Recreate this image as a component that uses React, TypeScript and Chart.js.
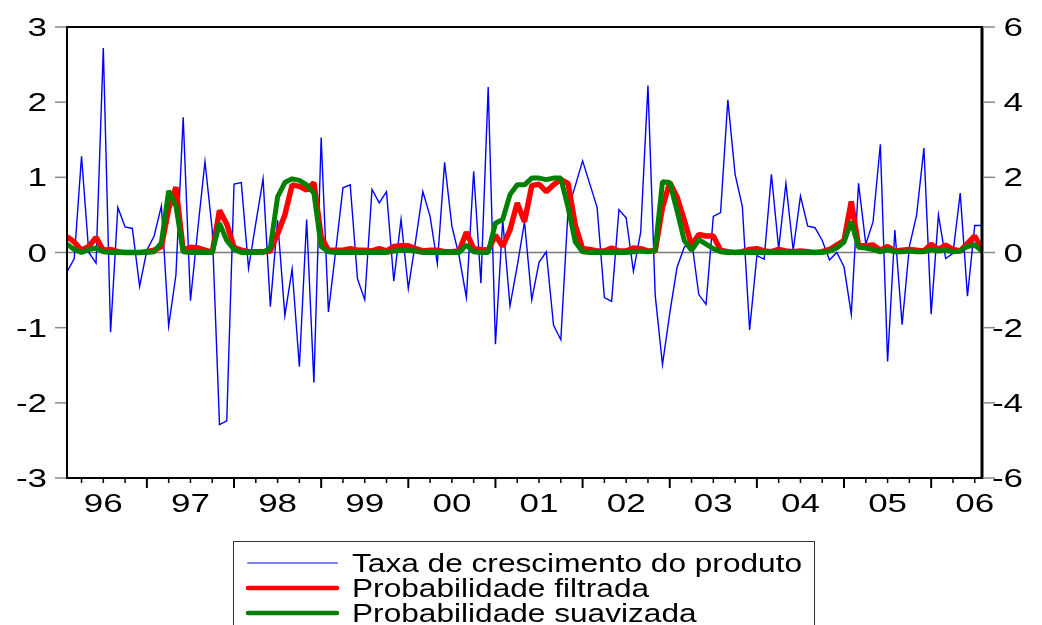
import React, { useEffect, useRef } from 'react';
import { Chart, registerables } from 'chart.js';

Chart.register(...registerables);

// Year labels shown under the x axis (monthly data, 1996 -> 2006)
const yearLabels = ['96', '97', '98', '99', '00', '01', '02', '03', '04', '05', '06'];
const leftTicks = [-3, -2, -1, 0, 1, 2, 3];
const rightTicks = [-6, -4, -2, 0, 2, 4, 6];

const seriesNames = [
  'Taxa de crescimento do produto',
  'Probabilidade filtrada',
  'Probabilidade suavizada',
];

// Taxa de crescimento do produto (right axis)
const growth = [
  -0.52, -0.16, 2.56, 0.0, -0.28, 5.44, -2.12, 1.2, 0.68, 0.64,
  -0.9, 0.06, 0.44, 1.24, -1.96, -0.6, 3.6, -1.28, 0.6, 2.42,
  0.6, -4.58, -4.48, 1.82, 1.86, -0.42, 0.78, 1.96, -1.44, 0.86,
  -1.68, -0.44, -3.04, 0.88, -3.46, 3.06, -1.58, 0.04, 1.72, 1.8,
  -0.7, -1.26, 1.68, 1.32, 1.62, -0.76, 0.88, -0.96, 0.3, 1.62,
  0.96, -0.3, 2.4, 0.7, -0.1, -1.2, 2.16, -0.82, 4.4, -2.44,
  0.86, -1.42, -0.36, 0.82, -1.26, -0.26, 0.02, -1.94, -2.32, 1.14,
  1.78, 2.44, 1.82, 1.2, -1.2, -1.3, 1.14, 0.92, -0.5, 0.54,
  4.44, -1.14, -2.98, -1.62, -0.4, 0.14, 0.34, -1.12, -1.38, 0.96,
  1.06, 4.06, 2.08, 1.22, -2.06, -0.08, -0.18, 2.08, 0.1, 1.84,
  0.06, 1.5, 0.7, 0.66, 0.32, -0.2, 0.0, -0.38, -1.64, 1.84,
  0.22, 0.82, 2.88, -2.9, 0.6, -1.92, 0.16, 1.0, 2.78, -1.64,
  1.0, -0.16, -0.02, 1.58, -1.16, 0.72, 0.72,
];

// Probabilidade filtrada (left axis)
const filtered = [
  0.21, 0.14, 0.03, 0.08, 0.2, 0.03, 0.04, 0.01, 0.0, 0.0,
  0.0, 0.01, 0.03, 0.08, 0.58, 0.87, 0.03, 0.07, 0.06, 0.03,
  0.0, 0.56, 0.38, 0.07, 0.03, 0.01, 0.01, 0.01, 0.02, 0.25,
  0.5, 0.9, 0.88, 0.83, 0.93, 0.21, 0.03, 0.03, 0.03, 0.05,
  0.03, 0.03, 0.02, 0.05, 0.02, 0.08, 0.09, 0.09, 0.05, 0.02,
  0.03, 0.03, 0.01, 0.01, 0.02, 0.27, 0.05, 0.04, 0.03, 0.23,
  0.08, 0.3, 0.66, 0.41, 0.89, 0.91, 0.81, 0.9, 0.97, 0.92,
  0.36, 0.05, 0.04, 0.02, 0.02, 0.06, 0.02, 0.02, 0.06, 0.05,
  0.02, 0.02, 0.6, 0.93, 0.74, 0.43, 0.1, 0.24, 0.22, 0.22,
  0.03, 0.01, 0.0, 0.01, 0.04, 0.05, 0.02, 0.01, 0.04, 0.02,
  0.01, 0.02, 0.01, 0.0, 0.01, 0.04, 0.1, 0.16, 0.68, 0.09,
  0.09, 0.1, 0.03, 0.08, 0.02, 0.03, 0.04, 0.03, 0.02, 0.11,
  0.04, 0.1, 0.04, 0.02, 0.12, 0.22, 0.04,
];

// Probabilidade suavizada (left axis)
const smoothed = [
  0.11, 0.04, 0.0, 0.04, 0.06, 0.01, 0.0, 0.0, 0.0, 0.0,
  0.0, 0.0, 0.01, 0.13, 0.82, 0.62, 0.01, 0.0, 0.0, 0.0,
  0.0, 0.39, 0.16, 0.04, 0.0, 0.0, 0.0, 0.0, 0.06, 0.74,
  0.93, 0.98, 0.96, 0.9, 0.79, 0.08, 0.01, 0.0, 0.0, 0.0,
  0.0, 0.0, 0.0, 0.0, 0.0, 0.02, 0.03, 0.03, 0.02, 0.0,
  0.0, 0.0, 0.0, 0.0, 0.0, 0.1, 0.01, 0.0, 0.0, 0.39,
  0.44, 0.77, 0.9, 0.9, 0.99, 0.99, 0.97, 0.99, 0.99, 0.6,
  0.14, 0.01, 0.0, 0.0, 0.0, 0.0, 0.0, 0.0, 0.01, 0.02,
  0.01, 0.03, 0.94, 0.93, 0.56, 0.16, 0.03, 0.17, 0.11, 0.05,
  0.01, 0.0, 0.0, 0.0, 0.0, 0.0, 0.0, 0.0, 0.0, 0.0,
  0.0, 0.0, 0.0, 0.0, 0.0, 0.02, 0.06, 0.14, 0.41, 0.07,
  0.06, 0.04, 0.01, 0.04, 0.01, 0.01, 0.02, 0.01, 0.01, 0.04,
  0.02, 0.03, 0.01, 0.02, 0.08, 0.1, 0.02,
];

// month index of the first quarter tick, and of the first January tick
const firstQuarterIdx = 2;
const firstYearIdx = 11;

const FONT = "25px 'Liberation Sans', Arial, sans-serif";
const AXIS_STRETCH = 1.4;
const LEGEND_STRETCH = 1.265;

function stretchedText(
  ctx: CanvasRenderingContext2D,
  text: string,
  x: number,
  y: number,
  align: CanvasTextAlign,
  stretch: number
) {
  ctx.save();
  ctx.translate(x, y);
  ctx.scale(stretch, 1);
  ctx.font = FONT;
  ctx.fillStyle = '#000';
  ctx.textAlign = align;
  ctx.textBaseline = 'alphabetic';
  ctx.fillText(text, 0, 0);
  ctx.restore();
}

export default function App() {
  const ref = useRef<HTMLCanvasElement>(null);

  useEffect(() => {
    if (!ref.current) return;
    const toXY = (arr: number[]) => arr.map((v, i) => ({ x: i, y: v }));

    const eviewsPlugin = {
      id: 'eviewsFrame',
      beforeDatasetsDraw(chart: any) {
        const { ctx, chartArea, scales } = chart;
        const y0 = scales.y.getPixelForValue(0);
        ctx.save();
        ctx.strokeStyle = '#7a7a7a';
        ctx.lineWidth = 1.6;
        ctx.beginPath();
        ctx.moveTo(chartArea.left, y0);
        ctx.lineTo(chartArea.right, y0);
        ctx.stroke();
        ctx.restore();
      },
      afterDraw(chart: any) {
        const { ctx, chartArea, scales } = chart;
        const { left, right, top, bottom } = chartArea;
        ctx.save();

        // frame
        ctx.strokeStyle = '#000';
        ctx.lineWidth = 2;
        ctx.strokeRect(left, top, right - left, bottom - top);
        ctx.lineWidth = 3;
        ctx.beginPath();
        ctx.moveTo(right, top);
        ctx.lineTo(right, bottom + 1);
        ctx.stroke();

        // left axis
        ctx.strokeStyle = '#8a8a8a';
        ctx.lineWidth = 1.5;
        leftTicks.forEach((v) => {
          const y = scales.y.getPixelForValue(v);
          ctx.beginPath();
          ctx.moveTo(left - 12, y);
          ctx.lineTo(left - 1, y);
          ctx.stroke();
          stretchedText(ctx, String(v), left - 20, y + 9, 'right', AXIS_STRETCH);
        });

        // right axis
        rightTicks.forEach((v) => {
          const y = scales.y2.getPixelForValue(v);
          ctx.strokeStyle = '#8a8a8a';
          ctx.lineWidth = 1.5;
          ctx.beginPath();
          ctx.moveTo(right + 1, y);
          ctx.lineTo(right + 13, y);
          ctx.stroke();
          stretchedText(ctx, String(v), right + 41, y + 9, 'right', AXIS_STRETCH);
        });

        // bottom axis ticks (quarterly, years longer)
        ctx.strokeStyle = '#000';
        for (let v = firstQuarterIdx; v <= scales.x.max; v += 3) {
          const x = scales.x.getPixelForValue(v);
          const major = (v - firstYearIdx) % 12 === 0;
          ctx.lineWidth = major ? 2 : 1.5;
          ctx.beginPath();
          ctx.moveTo(x, bottom);
          ctx.lineTo(x, bottom + (major ? 10 : 5));
          ctx.stroke();
        }
        yearLabels.forEach((lab, k) => {
          const x = scales.x.getPixelForValue(firstYearIdx - 6 + 12 * k);
          stretchedText(ctx, lab, x, bottom + 34, 'center', AXIS_STRETCH);
        });

        // legend
        const lx = 233;
        const ly = 541;
        ctx.strokeStyle = '#333';
        ctx.lineWidth = 1;
        ctx.strokeRect(lx + 0.5, ly + 0.5, 581, 120);
        const legendStyles = [
          { color: '#7f7fff', width: 2 },
          { color: '#ff0000', width: 4.5 },
          { color: '#008000', width: 4.5 },
        ];
        seriesNames.forEach((name, i) => {
          const y = ly + 22 + i * 25;
          ctx.strokeStyle = legendStyles[i].color;
          ctx.lineWidth = legendStyles[i].width;
          ctx.lineCap = 'round';
          ctx.beginPath();
          ctx.moveTo(lx + 15, y);
          ctx.lineTo(lx + 104, y);
          ctx.stroke();
          stretchedText(ctx, name, lx + 119, y + 9, 'left', LEGEND_STRETCH);
        });
        ctx.restore();
      },
    };

    const chart = new Chart(ref.current, {
      type: 'line',
      data: {
        datasets: [
          {
            label: seriesNames[0],
            data: toXY(growth),
            yAxisID: 'y2',
            borderColor: '#0000ff',
            borderWidth: 1.4,
            pointRadius: 0,
            tension: 0,
            order: 3,
          },
          {
            label: seriesNames[1],
            data: toXY(filtered),
            yAxisID: 'y',
            borderColor: '#ff0000',
            borderWidth: 5.5,
            borderJoinStyle: 'bevel',
            pointRadius: 0,
            tension: 0,
            order: 2,
          },
          {
            label: seriesNames[2],
            data: toXY(smoothed),
            yAxisID: 'y',
            borderColor: '#008000',
            borderWidth: 5,
            borderJoinStyle: 'bevel',
            pointRadius: 0,
            tension: 0,
            order: 1,
          },
        ],
      },
      options: {
        responsive: false,
        animation: false,
        devicePixelRatio: 1,
        layout: { padding: { left: 67, right: 60, top: 27, bottom: 147 } },
        plugins: {
          legend: { display: false },
          tooltip: { enabled: false },
        },
        scales: {
          x: { type: 'linear', min: 0, max: growth.length - 1, display: false },
          y: { min: -3, max: 3, display: false },
          y2: { min: -6, max: 6, display: false, position: 'right' },
        },
      },
      plugins: [eviewsPlugin],
    } as any);

    return () => chart.destroy();
  }, []);

  return (
    <div
      style={{
        position: 'absolute',
        left: 0,
        top: 0,
        width: 1042,
        height: 625,
        background: '#fff',
      }}
    >
      <canvas ref={ref} width={1042} height={625} style={{ display: 'block' }} />
    </div>
  );
}
